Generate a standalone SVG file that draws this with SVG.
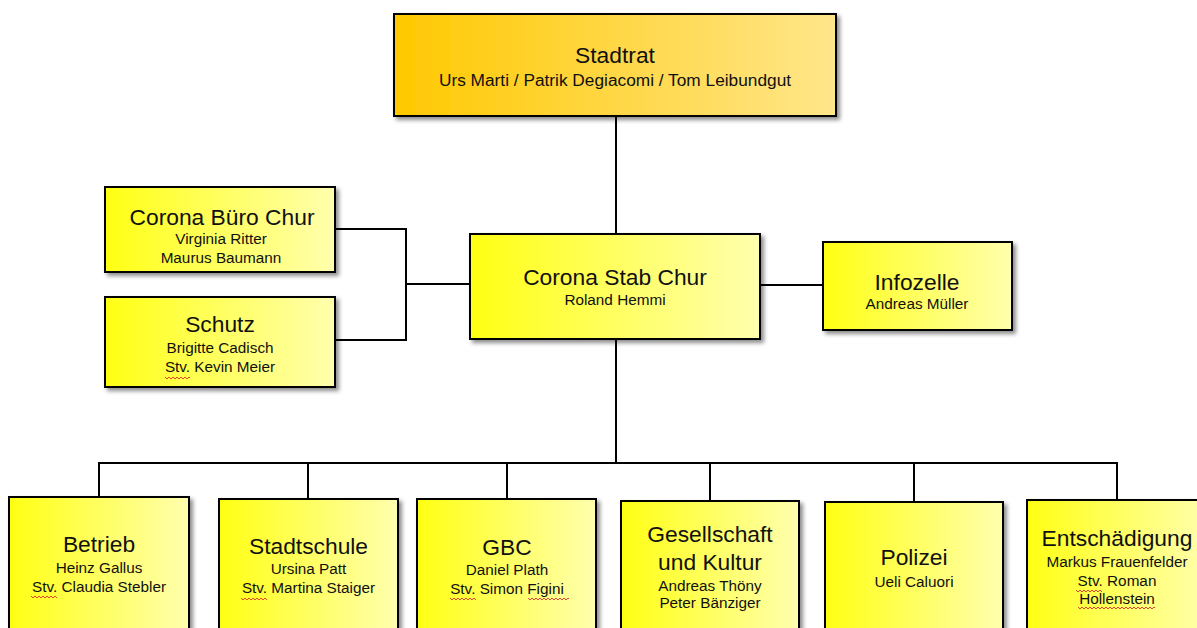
<svg xmlns="http://www.w3.org/2000/svg" width="1197" height="628" viewBox="0 0 1197 628">
<defs>
<linearGradient id="gY" x1="0" y1="0" x2="1" y2="0">
<stop offset="0" stop-color="#FFFF14"/>
<stop offset="1" stop-color="#FFFFAE"/>
</linearGradient>
<linearGradient id="gO" x1="0" y1="0" x2="1" y2="0">
<stop offset="0" stop-color="#FFC800"/>
<stop offset="1" stop-color="#FFE68A"/>
</linearGradient>
<filter id="sh" x="-10%" y="-10%" width="125%" height="130%">
<feDropShadow dx="3" dy="3" stdDeviation="2" flood-color="#000" flood-opacity="0.45"/>
</filter>
<path id="sq" d="M0 0 l2 2 l2 -2 l2 2 l2 -2 l2 2 l2 -2 l2 2 l2 -2 l2 2 l2 -2 l2 2 l2 -2 l2 2 l2 -2 l2 2 l2 -2 l2 2 l2 -2 l2 2 l2 -2 l2 2 l2 -2 l2 2 l2 -2 l2 2 l2 -2 l2 2 l2 -2 l2 2 l2 -2 l2 2 l2 -2 l2 2 l2 -2 l2 2 l2 -2 l2 2 l2 -2 l2 2 l2 -2 l2 2"/>
</defs>
<style>
.box{fill:url(#gY);stroke:#000;stroke-width:2;filter:url(#sh)}
.top{fill:url(#gO);stroke:#000;stroke-width:2;filter:url(#sh)}
.t{font-family:"Liberation Sans",Arial,sans-serif;font-size:22.8px;fill:#111;text-anchor:middle}
.s{font-family:"Liberation Sans",Arial,sans-serif;font-size:15.3px;fill:#111;text-anchor:middle}
.c{fill:none;stroke:#000;stroke-width:2}
.w{fill:none;stroke:#E03030;stroke-width:0.9}
</style>
<rect width="1197" height="628" fill="#fff"/>
<g id="connectors">
<path class="c" d="M616 116 V234"/>
<path class="c" d="M335 229 H406 V340 H335"/>
<path class="c" d="M406 284 H470"/>
<path class="c" d="M760 285 H823"/>
<path class="c" d="M616 339 V463"/>
<path class="c" d="M99 497 V463 H1117 V500"/>
<path class="c" d="M308 463 V499"/>
<path class="c" d="M507 463 V499"/>
<path class="c" d="M710 463 V501"/>
<path class="c" d="M914 463 V502"/>
</g>
<g id="stadtrat">
<rect class="top" x="394" y="14" width="442" height="102"/>
<text class="t" x="615" y="63">Stadtrat</text>
<text class="s" x="615" y="86" style="font-size:17.3px">Urs Marti / Patrik Degiacomi / Tom Leibundgut</text>
</g>
<g id="buero">
<rect class="box" x="105" y="187" width="230" height="85"/>
<text class="t" x="222" y="225">Corona Büro Chur</text>
<text class="s" x="221" y="244">Virginia Ritter</text>
<text class="s" x="221" y="263">Maurus Baumann</text>
</g>
<g id="schutz">
<rect class="box" x="105" y="297" width="230" height="90"/>
<text class="t" x="220" y="332">Schutz</text>
<text class="s" x="220" y="353">Brigitte Cadisch</text>
<text class="s" x="220" y="372">Stv. Kevin Meier</text>
</g>
<g id="stab">
<rect class="box" x="470" y="234" width="290" height="105"/>
<text class="t" x="615" y="285">Corona Stab Chur</text>
<text class="s" x="615" y="305">Roland Hemmi</text>
</g>
<g id="infozelle">
<rect class="box" x="823" y="242" width="189" height="88"/>
<text class="t" x="917" y="290">Infozelle</text>
<text class="s" x="917" y="309">Andreas Müller</text>
</g>
<g id="betrieb">
<rect class="box" x="9" y="497" width="180" height="145"/>
<text class="t" x="99" y="552">Betrieb</text>
<text class="s" x="99" y="573">Heinz Gallus</text>
<text class="s" x="99" y="592">Stv. Claudia Stebler</text>
</g>
<g id="stadtschule">
<rect class="box" x="219" y="499" width="179" height="145"/>
<text class="t" x="308.5" y="554">Stadtschule</text>
<text class="s" x="308.5" y="574">Ursina Patt</text>
<text class="s" x="308.5" y="593">Stv. Martina Staiger</text>
</g>
<g id="gbc">
<rect class="box" x="417" y="499" width="179" height="145"/>
<text class="t" x="507" y="555">GBC</text>
<text class="s" x="507" y="575">Daniel Plath</text>
<text class="s" x="507" y="594">Stv. Simon Figini</text>
</g>
<g id="gesellschaft">
<rect class="box" x="621" y="501" width="178" height="145"/>
<text class="t" x="710" y="542">Gesellschaft</text>
<text class="t" x="710" y="570">und Kultur</text>
<text class="s" x="710" y="591">Andreas Thöny</text>
<text class="s" x="710" y="608">Peter Bänziger</text>
</g>
<g id="polizei">
<rect class="box" x="825" y="502" width="178" height="145"/>
<text class="t" x="914" y="565">Polizei</text>
<text class="s" x="914" y="587">Ueli Caluori</text>
</g>
<g id="entschaedigung">
<rect class="box" x="1027" y="500" width="182" height="145"/>
<text class="t" x="1117" y="546">Entschädigung</text>
<text class="s" x="1117" y="567">Markus Frauenfelder</text>
<text class="s" x="1117" y="586">Stv. Roman</text>
<text class="s" x="1117" y="604">Hollenstein</text>
</g>
<g id="spellcheck">
<svg x="165" y="376" width="25" height="4" overflow="hidden"><use href="#sq" class="w" y="1"/></svg>
<svg x="31" y="595" width="26" height="4" overflow="hidden"><use href="#sq" class="w" y="1"/></svg>
<svg x="241" y="597" width="26" height="4" overflow="hidden"><use href="#sq" class="w" y="1"/></svg>
<svg x="450" y="597" width="26" height="4" overflow="hidden"><use href="#sq" class="w" y="1"/></svg>
<svg x="528" y="597" width="41" height="4" overflow="hidden"><use href="#sq" class="w" y="1"/></svg>
<svg x="1076" y="589" width="26" height="4" overflow="hidden"><use href="#sq" class="w" y="1"/></svg>
<svg x="1078" y="606" width="77" height="4" overflow="hidden"><use href="#sq" class="w" y="1"/></svg>
</g>
</svg>
